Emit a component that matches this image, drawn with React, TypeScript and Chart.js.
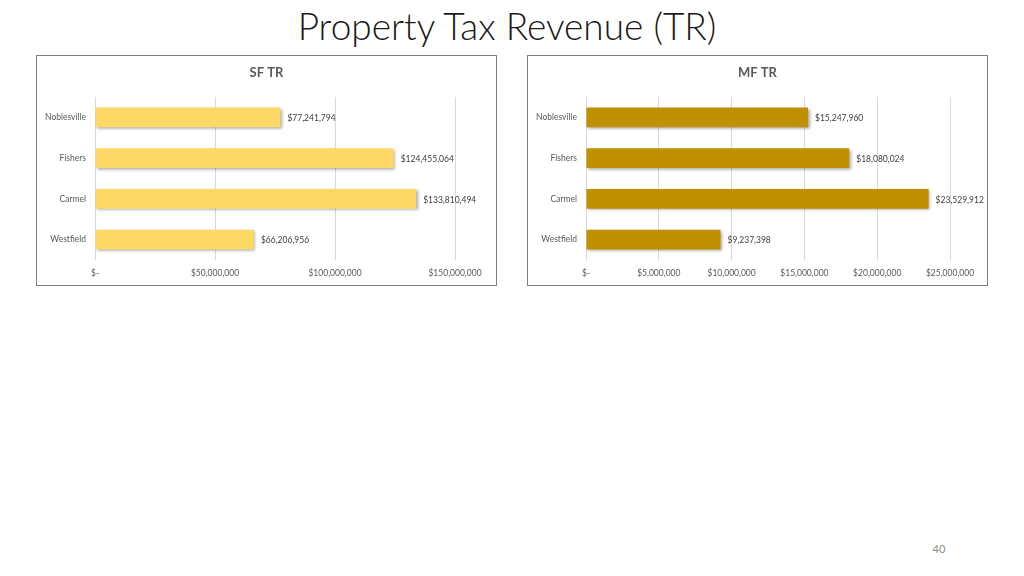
import React, { useEffect, useRef } from "react";
import { Chart, registerables } from "chart.js";

Chart.register(...registerables);

const pageTitle = "Property Tax Revenue (TR)";
const pageNumber = "40";
const categories = ["Noblesville", "Fishers", "Carmel", "Westfield"];
const sfTitle = "SF TR";
const sfValues = [77241794, 124455064, 133810494, 66206956];
const sfMax = 150000000;
const sfStep = 50000000;
const mfTitle = "MF TR";
const mfValues = [15247960, 18080024, 23529912, 9237398];
const mfMax = 25000000;
const mfStep = 5000000;

const FONT = "Lato, 'Open Sans', sans-serif";

const fmt = (v: number) => (v === 0 ? "$-" : "$" + Math.round(v).toLocaleString("en-US"));

const shadowPlugin = {
  id: "barShadow",
  beforeDatasetDraw(chart: any) {
    const ctx = chart.ctx;
    ctx.save();
    ctx.shadowColor = "rgba(0,0,0,0.35)";
    ctx.shadowBlur = 3;
    ctx.shadowOffsetX = 1.5;
    ctx.shadowOffsetY = 1.5;
  },
  afterDatasetDraw(chart: any) {
    chart.ctx.restore();
  },
};

const labelPlugin = {
  id: "valueLabels",
  afterDatasetsDraw(chart: any, _args: any, opts: any) {
    const ctx = chart.ctx;
    const meta = chart.getDatasetMeta(0);
    const data = chart.data.datasets[0].data as number[];
    ctx.save();
    ctx.font = `8.5px ${FONT}`;
    ctx.fillStyle = "#404040";
    ctx.textAlign = "left";
    ctx.textBaseline = "middle";
    meta.data.forEach((bar: any, i: number) => {
      ctx.fillText(fmt(data[i]), bar.x + 7, bar.y + 1);
    });
    ctx.font = `bold 13px ${FONT}`;
    ctx.fillStyle = "#595959";
    ctx.textAlign = "center";
    ctx.fillText(opts.text, chart.width / 2, 17);
    ctx.restore();
  },
};

function BarPanel(props: {
  title: string;
  values: number[];
  max: number;
  step: number;
  color: string;
  padRight: number;
}) {
  const ref = useRef<HTMLCanvasElement | null>(null);
  useEffect(() => {
    if (!ref.current) return;
    const chart = new Chart(ref.current, {
      type: "bar",
      data: {
        labels: categories,
        datasets: [
          {
            data: props.values,
            backgroundColor: props.color,
            borderWidth: 0,
            barPercentage: 0.49,
            categoryPercentage: 1,
          },
        ],
      },
      options: {
        indexAxis: "y",
        animation: false,
        responsive: false,
        maintainAspectRatio: false,
        layout: { padding: { left: 0, right: props.padRight, top: 41, bottom: 0 } },
        plugins: {
          legend: { display: false },
          tooltip: { enabled: false },
          title: { display: false },
          valueLabels: { text: props.title },
        } as any,
        scales: {
          x: {
            min: 0,
            max: props.max,
            ticks: {
              stepSize: props.step,
              color: "#595959",
              font: { family: FONT, size: 8.5 },
              padding: 8,
              callback: (v: any) => fmt(Number(v)),
            },
            grid: { color: "#d9d9d9", drawTicks: false },
            border: { display: false },
            afterFit: (s: any) => {
              s.height = 25;
            },
          },
          y: {
            ticks: {
              color: "#595959",
              font: { family: FONT, size: 8.5 },
              padding: 9,
            },
            grid: { display: false, drawTicks: false },
            border: { display: false },
            afterFit: (s: any) => {
              s.width = 58;
            },
          },
        },
      },
      plugins: [shadowPlugin, labelPlugin],
    });
    return () => chart.destroy();
  }, []);
  return (
    <canvas ref={ref} width={459} height={229} style={{ display: "block", width: 459, height: 229 }} />
  );
}

export default function App() {
  return (
    <div
      style={{
        position: "relative",
        width: 1024,
        height: 576,
        margin: -8,
        background: "#ffffff",
        fontFamily: FONT,
        overflow: "hidden",
      }}
    >
      <div
        style={{
          position: "absolute",
          left: 0,
          top: 2,
          width: 1014,
          textAlign: "center",
          fontSize: 37,
          fontWeight: 300,
          color: "#1a1a1a",
          lineHeight: "48px",
        }}
      >
        {pageTitle}
      </div>
      <div style={{ position: "absolute", left: 36, top: 55, border: "1px solid #7f7f7f" }}>
        <BarPanel title={sfTitle} values={sfValues} max={sfMax} step={sfStep} color="#FFD966" padRight={41} />
      </div>
      <div style={{ position: "absolute", left: 527, top: 55, border: "1px solid #7f7f7f" }}>
        <BarPanel title={mfTitle} values={mfValues} max={mfMax} step={mfStep} color="#BF9000" padRight={37} />
      </div>
      <div
        style={{
          position: "absolute",
          left: 924,
          top: 542,
          width: 30,
          textAlign: "center",
          fontSize: 11,
          color: "#8c8c8c",
        }}
      >
        {pageNumber}
      </div>
    </div>
  );
}
